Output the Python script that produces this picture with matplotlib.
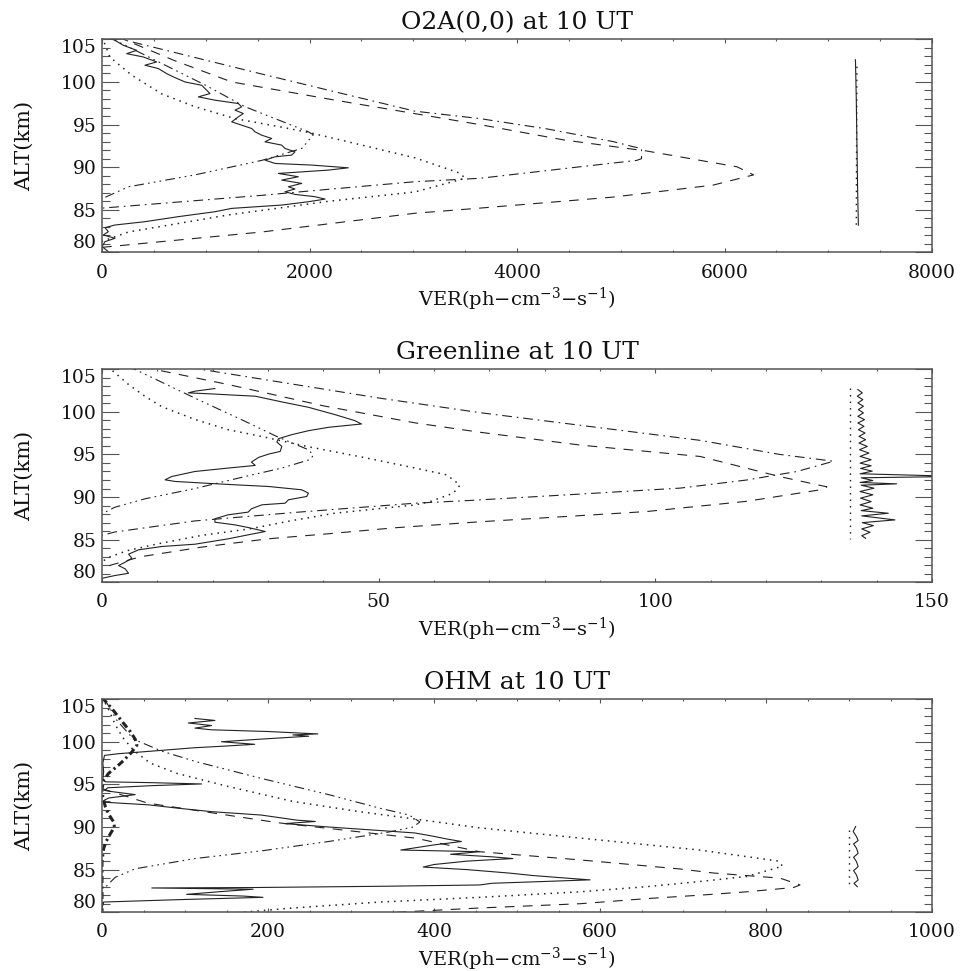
import matplotlib
matplotlib.use('Agg')
import matplotlib.pyplot as plt
from matplotlib.ticker import MultipleLocator

plt.rcParams['font.family'] = ['DejaVu Serif']
plt.rcParams['mathtext.fontset'] = 'dejavuserif'
plt.rcParams['lines.scale_dashes'] = False

# ---------------- Panel 1 : O2A(0,0) ----------------
o2a_meas_alt = [104.88, 104.30, 103.71, 103.32, 102.93, 102.35, 101.96, 101.57, 100.98, 100.59,
                100.00, 99.61, 99.22, 98.64, 98.25, 97.86, 97.47, 97.08, 96.69, 96.30,
                95.91, 95.32, 94.93, 94.54, 94.15, 93.76, 93.37, 92.98, 92.59, 92.20,
                91.81, 91.42, 91.22, 90.83, 90.44, 90.25, 89.93, 89.66, 89.27, 88.88,
                88.49, 88.10, 87.71, 87.44, 87.12, 86.81, 86.54, 86.26, 85.95, 85.56,
                85.17, 84.78, 84.20, 83.61, 83.22, 82.91, 82.44, 82.05, 81.66, 81.27,
                80.69, 80.10]
o2a_meas_ver = [125, 206, 334, 238, 398, 527, 414, 543, 623, 688,
                800, 961, 993, 1041, 929, 1089, 1314, 1346, 1282, 1362,
                1314, 1250, 1346, 1443, 1475, 1539, 1635, 1571, 1732, 1764,
                1860, 1828, 1668, 1571, 1668, 2021, 2374, 2182, 1700, 1892,
                1732, 1925, 1796, 1860, 1764, 1860, 2053, 2150, 1989, 1732,
                1250, 1089, 736, 414, 125, 29, 61, 13, 125, 29,
                0, 61]
o2a_dot_alt = [105.3, 103.9, 102.9, 100.8, 98.6, 97.1, 95.7, 94.7, 94.0, 91.1,
               89.3, 88.7, 87.1, 86.0, 84.4, 82.4, 81.3]
o2a_dot_ver = [0, 45, 77, 286, 575, 896, 1282, 1732, 2021, 3017,
               3450, 3500, 3017, 2182, 1218, 254, 0]
o2a_dd_alt = [105.3, 104.9, 100.9, 96.57, 95.7, 94.5, 93.0, 92.4, 92.2, 91.0,
              90.8, 90.05, 88.7, 88.3, 87.2, 86.7, 85.2]
o2a_dd_ver = [100, 222, 1550, 3017, 3643, 4286, 4928, 5121, 5200, 5200,
              5153, 4607, 3643, 3017, 1989, 1539, 0]
o2a_dash_alt = [105.3, 102.5, 100.0, 97.9, 95.0, 93.2, 91.9, 90.05, 89.1, 87.9,
                86.5, 85.2, 84.6, 82.4, 80.6]
o2a_dash_ver = [150, 700, 1250, 2230, 3640, 4450, 5250, 6120, 6280, 5890,
                4930, 3640, 3017, 1540, 0]
o2a_d3_alt = [105.2, 104.9, 99.6, 97.1, 94.15, 93.8, 92.2, 90.8, 89.1, 87.7, 86.3]
o2a_d3_ver = [50, 125, 1000, 1378, 1989, 2037, 1925, 1539, 896, 254, 0]
o2a_rs_alt = [102.6, 98.0, 93.0, 88.0, 83.2]
o2a_rs_ver = [7262, 7270, 7276, 7282, 7290]
o2a_rd_alt = [101.8, 83.2]
o2a_rd_ver = [7276, 7270]

# ---------------- Panel 2 : Greenline ----------------
gl_meas_alt = [102.73, 102.42, 102.22, 102.10, 101.95, 101.83, 101.16, 100.53, 99.67, 98.96,
               98.57, 98.18, 97.78, 97.32, 96.85, 96.45, 95.94, 95.35, 95.04, 94.65,
               94.10, 93.71, 93.40, 93.00, 92.41, 92.02, 91.83, 91.63, 91.44, 91.24,
               90.85, 90.46, 90.07, 89.68, 89.28, 89.09, 88.62, 88.23, 87.92, 87.45,
               87.05, 86.74, 86.43, 85.96, 85.49, 85.10, 84.47, 84.20, 83.81, 83.30,
               82.83, 82.36, 81.97, 81.57, 81.06, 80.79, 80.47]
gl_meas_ver = [20.4, 16.8, 15.6, 19.8, 24.0, 27.7, 32.5, 37.3, 42.1, 45.7,
               46.9, 40.9, 37.3, 34.3, 31.9, 31.6, 32.5, 32.2, 30.1, 28.3,
               27.0, 27.7, 22.8, 16.8, 12.6, 11.4, 13.2, 18.6, 24.0, 30.1,
               36.1, 37.3, 37.0, 33.7, 33.1, 28.9, 27.0, 26.4, 22.8, 20.4,
               20.4, 24.0, 26.4, 29.5, 25.8, 22.8, 16.8, 10.8, 6.6, 4.8,
               5.4, 4.2, 3.0, 4.2, 4.8, 2.3, 0.0]
gl_dot_alt = [105.3, 104.6, 103.2, 101.8, 100.6, 99.1, 97.9, 97.1, 95.9, 94.7,
              93.4, 92.6, 91.4, 90.46, 89.47, 89.08, 88.1, 87.2, 86.3, 85.5,
              84.5, 83.7, 82.9, 82.4]
gl_dot_ver = [1.0, 2.3, 4.8, 7.8, 10.8, 16.8, 22.8, 28.9, 37.3, 46.9,
              56.6, 62.3, 64.7, 63.5, 59.3, 56.6, 42.0, 34.0, 27.0, 18.0,
              10.0, 4.5, 1.1, 0.0]
gl_dd_alt = [105.3, 105.0, 101.6, 99.9, 96.65, 95.0, 94.2, 93.0, 92.0, 91.05,
             90.35, 89.6, 89.28, 88.2, 87.2, 85.9, 85.5]
gl_dd_ver = [15.8, 17.7, 50.2, 68.3, 108.1, 122.5, 132.2, 125.6, 116.5, 104.5,
             86.4, 66.5, 56.6, 34.9, 16.8, 2.3, 0.0]
gl_dash_alt = [105.3, 105.0, 103.2, 100.7, 98.7, 97.6, 96.1, 94.76, 92.4, 91.2,
               90.85, 89.5, 88.3, 87.1, 86.4, 85.7, 85.1, 84.1, 83.0, 82.0, 81.6]
gl_dash_ver = [7.5, 9.3, 22.8, 40.0, 56.6, 68.3, 86.4, 108.1, 122.5, 131.0,
               129.8, 116.5, 98.4, 68.3, 53.0, 41.0, 30.0, 17.7, 7.0, 1.5, 0.0]
gl_d3_alt = [105.3, 104.96, 101.6, 98.9, 97.1, 95.55, 94.9, 94.4, 93.4, 92.4,
             91.0, 89.8, 88.8, 88.2, 87.9]
gl_d3_ver = [4.5, 6.0, 16.8, 25.8, 31.6, 37.3, 38.2, 37.6, 32.5, 25.8,
             16.8, 7.8, 2.3, 0.5, 0.0]
gl_rd_alt = [102.8, 85.1]
gl_rd_ver = [135.1, 135.1]
gl_rs_alt = [102.61, 102.22, 101.83, 101.43, 101.04, 100.65, 100.26, 99.87, 99.47, 99.08,
             98.69, 98.30, 97.90, 97.51, 97.12, 96.73, 96.34, 95.94, 95.55, 95.16,
             94.77, 94.38, 93.98, 93.67, 93.36, 93.04, 92.73, 92.42, 92.26, 91.94,
             91.71, 91.55, 91.39, 91.04, 90.65, 90.26, 89.87, 89.47, 89.08, 88.69,
             88.41, 88.10, 87.79, 87.32, 87.00, 86.65, 86.26, 85.87, 85.47, 85.16]
gl_rs_ver = [136.6, 137.4, 136.5, 137.5, 136.6, 137.6, 136.7, 137.6, 136.6, 137.8,
             136.6, 137.7, 136.7, 137.9, 136.8, 138.0, 136.8, 138.3, 136.9, 138.6,
             137.0, 139.0, 137.0, 139.0, 137.1, 139.2, 137.0, 155.0, 137.2, 139.3,
             137.0, 143.6, 137.2, 139.5, 137.0, 139.3, 137.1, 139.0, 137.0, 139.3,
             137.2, 142.1, 137.3, 143.3, 137.4, 139.4, 137.3, 138.8, 137.3, 138.0]

# ---------------- Panel 3 : OHM ----------------
ohm_meas_alt = [102.73, 102.5, 102.2, 101.9, 101.6, 101.4, 101.2, 100.92, 100.8, 100.65,
                100.3, 100.0, 99.7, 99.5, 99.3, 98.9, 98.6, 98.4, 97.5, 96.5,
                95.6, 95.3, 95.2, 95.05, 94.85, 94.6, 94.3, 94.2, 93.8, 93.4,
                93.1, 92.9, 92.6, 92.2, 91.8, 91.4, 90.8, 90.65, 90.4, 90.0,
                89.6, 89.3, 88.9, 88.6, 88.3, 87.9, 87.6, 87.3, 87.1, 86.8,
                86.5, 86.3, 86.0, 85.6, 85.3, 85.0, 84.6, 84.3, 84.0, 83.8,
                83.6, 83.4, 83.2, 83.05, 82.9, 82.85, 82.7, 82.4, 82.1, 81.9,
                81.75, 81.5, 81.2, 80.5, 79.9]
ohm_meas_ver = [112, 136, 104, 132, 112, 132, 200, 260, 230, 249,
                190, 144, 184, 150, 112, 60, 20, 3, 1, 2,
                1, 4, 60, 120, 60, 7, 3, 8, 40, 8,
                2, 4, 56, 92, 132, 192, 235, 257, 220, 273,
                333, 377, 400, 415, 433, 400, 380, 360, 455, 420,
                470, 495, 440, 400, 387, 440, 490, 520, 560, 588,
                530, 470, 455, 340, 182, 60, 182, 140, 102, 170,
                194, 100, 2, 0, 0]
ohm_dot_alt = [105.2, 104.0, 102.0, 100.5, 99.0, 97.5, 96.3, 94.8, 93.0, 91.8,
               90.9, 89.9, 88.7, 87.3, 86.0, 85.4, 84.2, 83.6, 83.0, 82.4,
               81.75, 81.2, 80.5, 79.8]
ohm_dot_ver = [0, 7, 16, 25, 38, 58, 90, 150, 230, 310,
               380, 455, 576, 720, 815, 820, 777, 720, 656, 576,
               455, 335, 230, 145]
ohm_dash_alt = [94.5, 92.8, 90.5, 88.7, 87.1, 86.14, 85.08, 84.6, 84.0, 83.2,
                82.9, 82.4, 82.0, 81.6, 81.0, 80.5, 79.9]
ohm_dash_ver = [0, 55, 212, 377, 455, 576, 696, 737, 817, 841,
                833, 777, 720, 656, 576, 455, 335]
ohm_d3_alt = [105.2, 102.5, 100.3, 98.9, 97.7, 95.7, 93.8, 92.2, 91.4, 90.6,
              90.0, 89.4, 88.3, 87.2, 86.3, 85.1, 84.1, 83.3, 82.8]
ohm_d3_ver = [2, 18, 38, 72, 112, 192, 273, 335, 370, 383,
              375, 345, 273, 192, 112, 40, 16, 7.6, 3]
ohm_thick_alt = [105.2, 104.0, 102.4, 101.2, 100.3, 99.6, 98.8, 97.8, 97.1, 96.3,
                 95.5, 94.5, 93.5, 92.4, 91.5, 90.6, 90.0, 89.2, 88.3, 87.5,
                 86.0, 80.0]
ohm_thick_ver = [0, 11, 24, 34, 40, 42, 36, 26, 18, 8,
                 2, 0, 1, 4, 8, 14, 15, 10, 5, 2,
                 0, 0]
ohm_rd_alt = [89.7, 83.0]
ohm_rd_ver = [900, 900]
ohm_rs_alt = [90.06, 89.47, 88.88, 88.41, 88.02, 87.51, 86.92, 86.45, 85.94, 85.35,
              84.88, 84.37, 83.78, 83.39, 83.00]
ohm_rs_ver = [908, 905, 909, 911, 905.5, 909, 911, 905.5, 909, 911,
              905.5, 909, 911, 906, 910]

titles = ['O2A(0,0) at 10 UT', 'Greenline at 10 UT', 'OHM at 10 UT']
x_limits = [8000, 150, 1000]
x_major = [2000, 50, 200]
x_minor = [500, 10, 50]
y_ticks = [80, 85, 90, 95, 100, 105]

INK = '#222222'
AXC = '#555555'
SOLID = '-'
DOT = (0, (1.1, 3.6))
DASH = (0, (7, 6))
DASHDOT = (0, (7, 3.5, 1.2, 3.5))
DASH3DOT = (0, (7, 3, 1.2, 3, 1.2, 3, 1.2, 3))
THICK = (0, (5, 2.5, 1.6, 2.5))

curves = [
    [(o2a_meas_ver, o2a_meas_alt, SOLID, 0.8),
     (o2a_dot_ver, o2a_dot_alt, DOT, 1.1),
     (o2a_dd_ver, o2a_dd_alt, DASHDOT, 0.8),
     (o2a_dash_ver, o2a_dash_alt, DASH, 0.8),
     (o2a_d3_ver, o2a_d3_alt, DASH3DOT, 0.8),
     (o2a_rs_ver, o2a_rs_alt, SOLID, 0.8),
     (o2a_rd_ver, o2a_rd_alt, DOT, 1.0)],
    [(gl_meas_ver, gl_meas_alt, SOLID, 0.8),
     (gl_dot_ver, gl_dot_alt, DOT, 1.1),
     (gl_dd_ver, gl_dd_alt, DASHDOT, 0.8),
     (gl_dash_ver, gl_dash_alt, DASH, 0.8),
     (gl_d3_ver, gl_d3_alt, DASH3DOT, 0.8),
     (gl_rs_ver, gl_rs_alt, SOLID, 0.8),
     (gl_rd_ver, gl_rd_alt, DOT, 1.0)],
    [(ohm_meas_ver, ohm_meas_alt, SOLID, 0.8),
     (ohm_dot_ver, ohm_dot_alt, DOT, 1.1),
     (ohm_dash_ver, ohm_dash_alt, DASH, 0.8),
     (ohm_d3_ver, ohm_d3_alt, DASH3DOT, 0.8),
     (ohm_thick_ver, ohm_thick_alt, THICK, 2.2),
     (ohm_rs_ver, ohm_rs_alt, SOLID, 0.8),
     (ohm_rd_ver, ohm_rd_alt, DOT, 1.0)],
]

fig = plt.figure(figsize=(9.6, 9.71), dpi=100)
bottoms = [0.7400, 0.4003, 0.0605]
for i in range(3):
    ax = fig.add_axes([0.10625, bottoms[i], 0.8646, 0.2195])
    for xs, ys, ls, lw in curves[i]:
        ax.plot(xs, ys, color=INK, linestyle=ls, linewidth=lw, clip_on=True)
    ax.set_xlim(0, x_limits[i])
    ax.set_ylim(80, 105)
    ax.xaxis.set_major_locator(MultipleLocator(x_major[i]))
    ax.xaxis.set_minor_locator(MultipleLocator(x_minor[i]))
    ax.set_yticks(y_ticks)
    ax.yaxis.set_minor_locator(MultipleLocator(1))
    for s in ax.spines.values():
        s.set_color(AXC)
        s.set_linewidth(1.1)
    ax.tick_params(which='both', direction='in', top=True, right=True,
                   color=AXC, width=0.8, labelsize=13.5, labelcolor='#111111')
    ax.tick_params(axis='x', which='major', length=3.0, pad=8)
    ax.tick_params(axis='x', which='minor', length=1.5)
    ax.tick_params(axis='y', which='major', length=12, pad=4)
    ax.tick_params(axis='y', which='minor', length=6)
    yt = ax.yaxis.get_major_ticks()
    yt[0].label1.set_verticalalignment('bottom')
    yt[-1].label1.set_verticalalignment('top')
    ax.set_title(titles[i], fontsize=18, pad=7, color='#111111')
    ax.set_xlabel(r'VER(ph$-$cm$^{-3}$$-$s$^{-1}$)', fontsize=14, labelpad=3, color='#111111')
    ax.set_ylabel('ALT(km)', fontsize=15, labelpad=19, color='#111111')

fig.savefig('out.png', dpi=100)
